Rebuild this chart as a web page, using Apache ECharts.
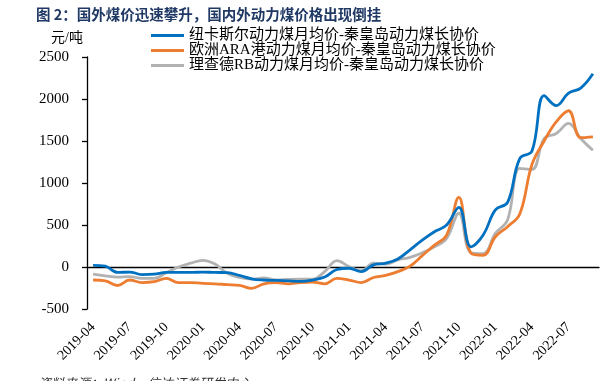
<!DOCTYPE html>
<html>
<head>
<meta charset="utf-8">
<script src="https://cdn.jsdelivr.net/npm/echarts@6/dist/echarts.min.js"></script>
<style>
  html, body { margin: 0; padding: 0; background: #fff; }
  #chart { width: 614px; height: 381px; }
</style>
</head>
<body>
<div id="chart"></div>
<script>
// monthly, 2019-04 .. 2022-09
const months = [
  '2019-04', '2019-05', '2019-06', '2019-07', '2019-08', '2019-09', '2019-10', '2019-11', '2019-12',
  '2020-01', '2020-02', '2020-03', '2020-04', '2020-05', '2020-06', '2020-07', '2020-08', '2020-09',
  '2020-10', '2020-11', '2020-12', '2021-01', '2021-02', '2021-03', '2021-04', '2021-05', '2021-06',
  '2021-07', '2021-08', '2021-09', '2021-10', '2021-11', '2021-12', '2022-01', '2022-02', '2022-03',
  '2022-04', '2022-05', '2022-06', '2022-07', '2022-08', '2022-09'
];

const seriesNames = [
  '纽卡斯尔动力煤月均价-秦皇岛动力煤长协价',
  '欧洲ARA港动力煤月均价-秦皇岛动力煤长协价',
  '理查德RB动力煤月均价-秦皇岛动力煤长协价'
];

// 元/吨
const newcastle = [
  20, 10, -65, -60, -90, -85, -65, -65, -65,
  -60, -65, -67, -100, -140, -155, -160, -165, -170,
  -155, -120, -30, -15, -55, 25, 45, 95, 205,
  320, 420, 500, 710, 240, 380, 680, 770, 1290,
  1380, 2040, 1920, 2070, 2130, 2300
];
const ara = [
  -155, -165, -220, -155, -185, -175, -135, -185, -185,
  -195, -200, -210, -218, -255, -200, -185, -200, -185,
  -180, -200, -135, -155, -185, -125, -100, -55, 10,
  135, 260, 380, 830, 165, 140, 360, 480, 630,
  1220, 1500, 1730, 1860, 1540, 1550
];
const richardsBay = [
  -85, -105, -120, -115, -135, -135, -68, 0, 45,
  80, 35, -75, -125, -145, -130, -155, -148, -145,
  -145, -55, 75, 5, -45, 45, 35, 85, 115,
  170, 240, 340, 640, 170, 160, 400, 560, 1175,
  1160, 1530, 1590, 1710, 1530, 1390
];

const colors = ['#0070C0', '#ED7D31', '#B2B2B2'];
const serif = '"Liberation Serif", "Noto Sans CJK SC", serif';

const chart = echarts.init(document.getElementById('chart'));

const option = {
  animation: false,
  color: colors,
  title: {
    text: '图 2：国外煤价迅速攀升，国内外动力煤价格出现倒挂',
    left: 36,
    top: 7,
    padding: 0,
    textStyle: {
      fontSize: 14.5,
      fontWeight: 'bold',
      color: '#1F3864',
      fontFamily: '"Noto Sans CJK SC", sans-serif'
    }
  },
  legend: {
    orient: 'vertical',
    left: 151,
    top: 28,
    padding: 0,
    itemGap: 0,
    itemWidth: 33,
    itemHeight: 3,
    icon: 'rect',
    textStyle: { fontSize: 15, lineHeight: 15, height: 15, color: '#000', fontFamily: serif },
    data: seriesNames
  },
  grid: { left: 87, right: 15, top: 57, bottom: 72, outerBoundsMode: 'none' },
  xAxis: {
    type: 'category',
    data: months,
    boundaryGap: true,
    axisLine: { onZero: true, lineStyle: { color: '#000', width: 1.3 } },
    axisTick: { interval: 2, length: 4, lineStyle: { color: '#000', width: 1.3 } },
    axisLabel: {
      interval: 2,
      rotate: 45,
      margin: 16,
      fontSize: 14,
      color: '#000',
      fontFamily: serif
    },
    splitLine: { show: false }
  },
  yAxis: {
    type: 'value',
    min: -500,
    max: 2500,
    interval: 500,
    name: '元/吨',
    nameLocation: 'end',
    nameGap: 19,
    nameTextStyle: {
      fontSize: 14,
      color: '#000',
      fontFamily: serif,
      align: 'right',
      verticalAlign: 'middle',
      padding: [0, 4, 0, 0]
    },
    axisLine: { show: true, lineStyle: { color: '#000', width: 1.3 } },
    axisTick: { show: true, length: 5, lineStyle: { color: '#000', width: 1.3 } },
    axisLabel: {
      fontSize: 15,
      color: '#000',
      margin: 18,
      fontFamily: serif,
      formatter: v => String(v)
    },
    splitLine: { show: false }
  },
  graphic: [{
    type: 'text',
    left: 38,
    top: 377,
    style: {
      text: '资料来源：Wind，信达证券研发中心',
      fontSize: 13,
      fontStyle: 'italic',
      fill: '#333',
      fontFamily: '"Noto Sans CJK SC", sans-serif'
    }
  }],
  series: [newcastle, ara, richardsBay].map((values, i) => ({
    name: seriesNames[i],
    type: 'line',
    data: values,
    smooth: 0.4,
    symbol: 'none',
    lineStyle: { width: 2.8, color: colors[i] },
    z: 3 - i
  }))
};

chart.setOption(option);
</script>
</body>
</html>
